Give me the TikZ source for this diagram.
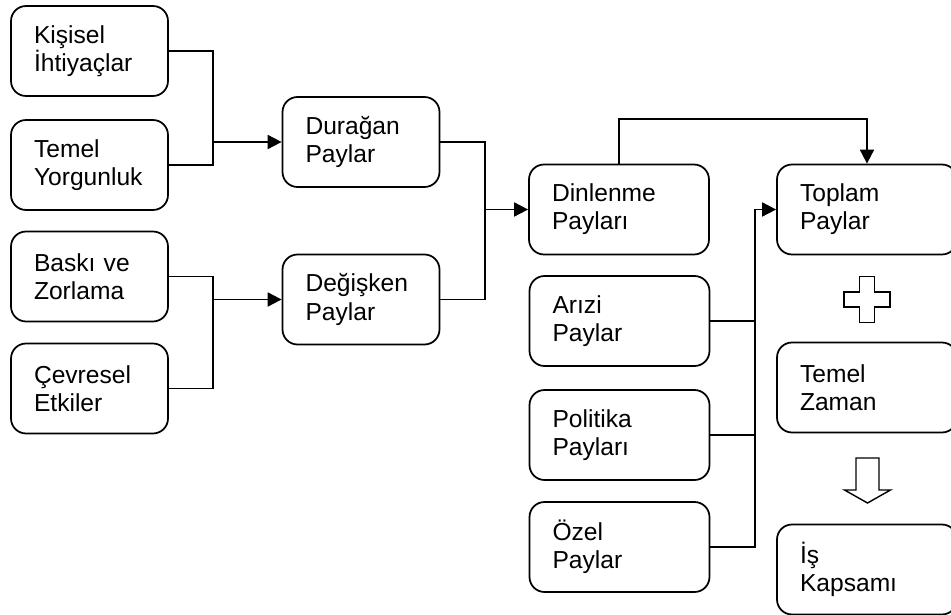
\documentclass[tikz,border=0pt]{standalone}
\usepackage{fontspec}
\setmainfont{Liberation Sans}
\usepackage{tikz}
\usetikzlibrary{arrows.meta}
\tikzstyle{box}=[rectangle, rounded corners=0.3cm, draw=black, line width=1pt, minimum height=1.8cm, inner xsep=0.46cm, align=left, font=\fontsize{14}{16}\selectfont, anchor=center]
\tikzstyle{small}=[box, text width=2.22cm]
\tikzstyle{wide}=[box, text width=2.68cm]
\tikzstyle{link}=[line width=1pt]
\tikzstyle{arr}=[link, -{Triangle[length=0.28cm, width=0.28cm]}]

\begin{document}
\begin{tikzpicture}[x=0.02cm, y=-0.02cm]
	\path[use as bounding box, clip] (0,0) rectangle (951,615);

	% left column
	\node[small](kisisel) at (89.5,51){Kişisel\\İhtiyaçlar};
	\node[small](yorgunluk) at (89.5,165){Temel\\Yorgunluk};
	\node[small](baski) at (89.5,276.5){Baskı ve\\Zorlama};
	\node[small](cevresel) at (89.5,388.5){Çevresel\\Etkiler};

	% middle column
	\node[small](duragan) at (361,142){Durağan\\Paylar};
	\node[small](degisken) at (361,299.5){Değişken\\Paylar};

	% payments column
	\node[wide](dinlenme) at (619,209.5){Dinlenme\\Payları};
	\node[wide](arizi) at (619.5,321){Arızi\\Paylar};
	\node[wide](politika) at (619.5,435){Politika\\Payları};
	\node[wide](ozel) at (619.5,547){Özel\\Paylar};

	% result column
	\node[wide](toplam) at (867,209.5){Toplam\\Paylar};
	\node[wide](zaman) at (867,387.5){Temel\\Zaman};
	\node[wide](kapsam) at (867,569.5){İş\\Kapsamı};

	\coordinate (c1) at (213,0);
	\coordinate (c2) at (485,0);
	\coordinate (c3) at (755,0);
	\coordinate (top) at (0,119);

	\draw[link] (kisisel.east) -| (c1 |- yorgunluk.east) -- (yorgunluk.east);
	\draw[arr] (c1 |- duragan.west) -- (duragan.west);
	\draw[link] (baski.east) -| (c1 |- cevresel.east) -- (cevresel.east);
	\draw[arr] (c1 |- degisken.west) -- (degisken.west);

	\draw[link] (duragan.east) -| (c2 |- degisken.east) -- (degisken.east);
	\draw[arr] (c2 |- dinlenme.west) -- (dinlenme.west);

	\draw[arr] (dinlenme.north) |- (top -| toplam.north) -- (toplam.north);

	\draw[link] (arizi.east) -- (c3 |- arizi.east);
	\draw[link] (politika.east) -- (c3 |- politika.east);
	\draw[link] (ozel.east) -| (c3 |- toplam.west);
	\draw[arr] (c3 |- toplam.west) -- (toplam.west);

	% plus sign
	\draw[line width=0.9pt, shift={(867,299.5)}] (-7.5,-23) -- (7.5,-23) -- (7.5,-7.5) -- (23,-7.5) -- (23,7.5) -- (7.5,7.5) -- (7.5,23) -- (-7.5,23) -- (-7.5,7.5) -- (-23,7.5) -- (-23,-7.5) -- (-7.5,-7.5) -- cycle;
	% down arrow
	\draw[line width=0.8pt, shift={(867.5,0)}] (-11.5,458) -- (11.5,458) -- (11.5,490) -- (23,490) -- (0,503) -- (-23,490) -- (-11.5,490) -- cycle;
\end{tikzpicture}
\end{document}
